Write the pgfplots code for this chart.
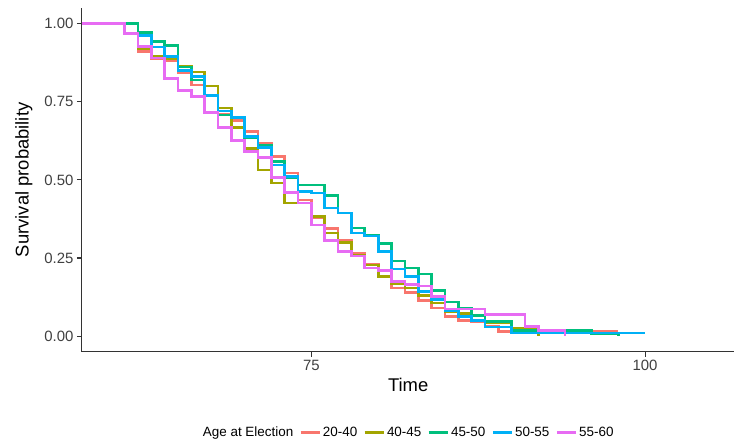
\documentclass[border=0pt]{standalone}
\usepackage{pgfplots}
\pgfplotsset{compat=1.18}
\usepackage{fontspec}
\setmainfont{Liberation Sans}

\definecolor{grpA}{HTML}{F8766D}
\definecolor{grpB}{HTML}{A3A500}
\definecolor{grpC}{HTML}{00BF7D}
\definecolor{grpD}{HTML}{00B0F6}
\definecolor{grpE}{HTML}{E76BF3}
\definecolor{axisgray}{HTML}{333333}

\begin{document}
\begin{tikzpicture}
\begin{axis}[
    scale only axis,
    width=653bp,
    height=344bp,
    xmin=57.8, xmax=106.7,
    ymin=-0.05, ymax=1.05,
    axis x line=bottom,
    axis y line=left,
    axis line style={-, line width=1.1bp, color=axisgray},
    xtick={75,100},
    ytick={0,0.25,0.5,0.75,1},
    yticklabels={0.00,0.25,0.50,0.75,1.00},
    tick align=outside,
    major tick length=5bp,
    tick style={line width=1.1bp, color=axisgray},
    ticklabel style={font=\fontsize{15}{18}\selectfont, text=black!75},
    /pgf/number format/assume math mode=true,
    xlabel={Time},
    ylabel={Survival probability},
    label style={font=\fontsize{18.5}{22}\selectfont},
    ylabel shift=5bp,
    no marks,
    const plot,
    every axis plot/.append style={line width=2.7bp},
    legend columns=-1,
    legend style={
        at={(0.5,0)}, anchor=center, yshift=-81bp,
        draw=none, fill=none,
        font=\fontsize{13.5}{16}\selectfont,
        /tikz/every odd column/.append style={column sep=0bp},
        /tikz/every even column/.append style={column sep=4bp},
    },
    legend image code/.code={\draw[#1, line width=2.7bp] (0bp,0bp) -- (19bp,0bp);},
]

\addlegendimage{empty legend}
\addlegendentry{Age at Election}

% 20-40
\addplot[grpA] coordinates {
    (57.8,1) (61,0.97) (62,0.911) (63,0.887) (64,0.88) (65,0.843) (66,0.804)
    (67,0.772) (68,0.711) (69,0.69) (70,0.655) (71,0.618) (72,0.575)
    (73,0.522) (74,0.436) (75,0.38) (76,0.345) (77,0.308) (78,0.266)
    (79,0.23) (80,0.19) (81,0.154) (82,0.14) (83,0.115) (84,0.09)
    (85,0.062) (86,0.051) (87,0.045) (88,0.032) (89,0.014) (98,0.014)
};
\addlegendentry{20-40}

% 40-45
\addplot[grpB] coordinates {
    (57.8,1) (61,0.97) (62,0.92) (63,0.894) (64,0.888) (65,0.862) (66,0.845)
    (67,0.80) (68,0.73) (69,0.667) (70,0.6) (71,0.532) (72,0.49)
    (73,0.426) (75,0.382) (76,0.33) (77,0.30) (78,0.26) (79,0.228)
    (80,0.19) (81,0.167) (82,0.154) (83,0.131) (84,0.106) (85,0.078)
    (86,0.073) (87,0.065) (88,0.042) (90,0.025) (92,0)
};
\addlegendentry{40-45}

% 45-50
\addplot[grpC] coordinates {
    (57.8,1) (62,0.972) (63,0.943) (64,0.929) (65,0.861) (66,0.82)
    (67,0.769) (68,0.708) (69,0.70) (70,0.635) (71,0.612) (72,0.559)
    (73,0.506) (74,0.484) (76,0.449) (77,0.394) (78,0.346) (79,0.324)
    (80,0.296) (81,0.24) (82,0.218) (83,0.199) (84,0.147) (85,0.109)
    (86,0.09) (87,0.067) (88,0.046) (90,0.018) (96,0.009) (98,0)
};
\addlegendentry{45-50}

% 50-55
\addplot[grpD] coordinates {
    (57.8,1) (61,0.97) (62,0.962) (63,0.925) (64,0.895) (65,0.85) (66,0.83)
    (67,0.77) (68,0.72) (69,0.70) (70,0.639) (71,0.603) (72,0.548)
    (73,0.51) (74,0.462) (75,0.458) (76,0.41) (77,0.394) (78,0.33)
    (79,0.32) (80,0.27) (81,0.215) (82,0.19) (83,0.142) (84,0.118)
    (85,0.08) (86,0.062) (87,0.05) (88,0.029) (90,0.01) (100,0.01)
};
\addlegendentry{50-55}

% 55-60
\addplot[grpE] coordinates {
    (57.8,1) (61,0.968) (62,0.927) (63,0.89) (64,0.824) (65,0.785) (66,0.767)
    (67,0.715) (68,0.667) (69,0.625) (70,0.59) (71,0.571) (72,0.507)
    (73,0.46) (74,0.426) (75,0.356) (76,0.305) (77,0.27) (78,0.256)
    (79,0.218) (80,0.21) (81,0.174) (82,0.165) (83,0.16) (84,0.126)
    (85,0.087) (88,0.07) (91,0.03) (92,0.017) (94,0)
};
\addlegendentry{55-60}

\end{axis}
\path[use as bounding box] (-82bp,-95bp) rectangle (653bp,352bp);
\end{tikzpicture}
\end{document}
